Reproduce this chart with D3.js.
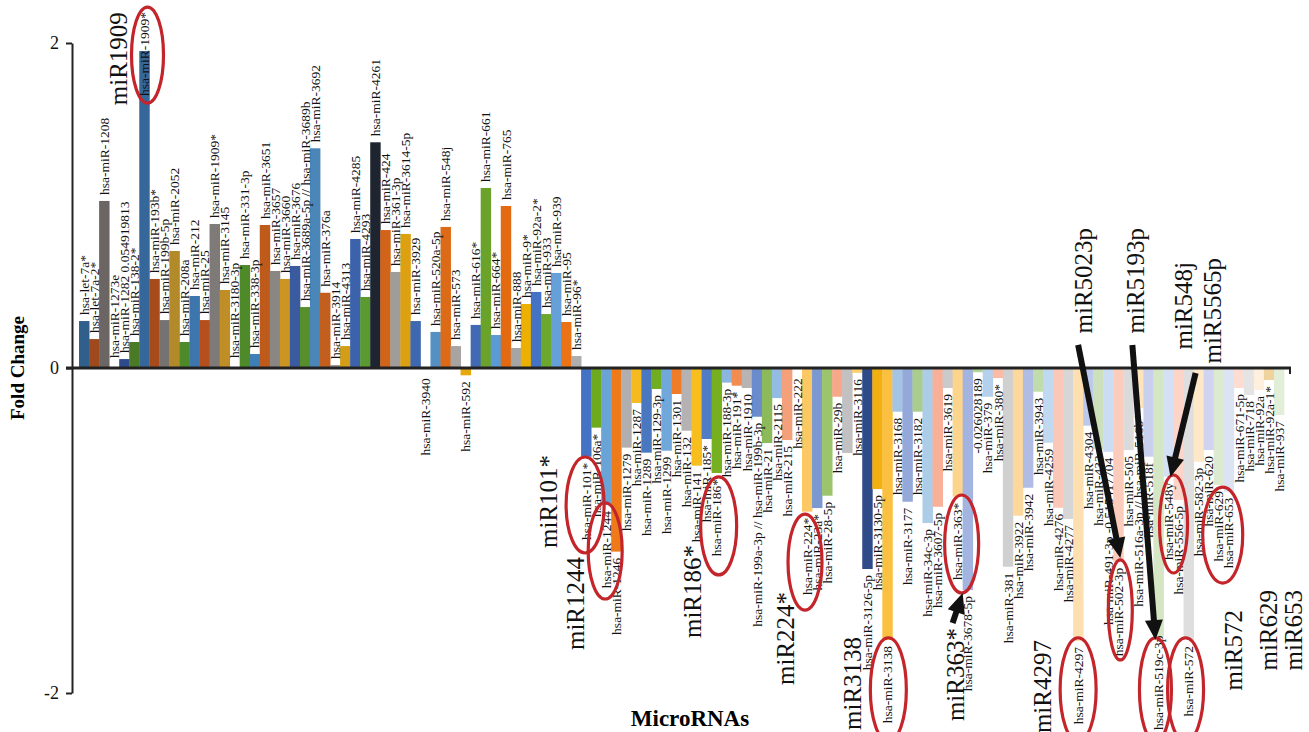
<!DOCTYPE html>
<html><head><meta charset="utf-8">
<script src="https://cdn.jsdelivr.net/npm/d3@7"></script>
<style>
body{margin:0;background:#fff}
svg{display:block}
text{font-family:"Liberation Serif","Times New Roman",serif}
</style>
</head><body>
<svg id="chart" width="1309" height="732"></svg>
<script>
// Bar labels as printed beside each bar (some carry the value as well)
const labels = [
  "hsa-let-7a*","hsa-let-7a-2*","hsa-miR-1208","hsa-miR-1273e","hsa-miR-1282 0.054919813","hsa-miR-138-2*",
  "hsa-miR-1909*","hsa-miR-193b*","hsa-miR-199b-5p","hsa-miR-2052","hsa-miR-208a","hsa-miR-212",
  "hsa-miR-25","hsa-miR-1909*","hsa-miR-3145","hsa-miR-3180-3p","hsa-miR-331-3p","hsa-miR-338-3p",
  "hsa-miR-3651","hsa-miR-3657","hsa-miR-3660","hsa-miR-3676","hsa-miR-3689a-5p // hsa-miR-3689b","hsa-miR-3692",
  "hsa-miR-376a","hsa-miR-3914","hsa-miR-4313","hsa-miR-4285","hsa-miR-4293","hsa-miR-4261",
  "hsa-miR-424","hsa-miR-361-3p","hsa-miR-3614-5p","hsa-miR-3929","hsa-miR-3940","hsa-miR-520a-5p",
  "hsa-miR-548j","hsa-miR-573","hsa-miR-592","hsa-miR-616*","hsa-miR-661","hsa-miR-664*",
  "hsa-miR-765","hsa-miR-888","hsa-miR-9*","hsa-miR-92a-2*","hsa-miR-933","hsa-miR-939",
  "hsa-miR-95","hsa-miR-96*",
  "hsa-miR-101*","hsa-miR-106a*","hsa-miR-1244","hsa-miR-1246","hsa-miR-1279","hsa-miR-1287",
  "hsa-miR-1289","hsa-miR-129-3p","hsa-miR-1299","hsa-miR-1301","hsa-miR-132","hsa-miR-141",
  "hsa-miR-185*","hsa-miR-186*","hsa-miR-188-3p","hsa-miR-191*","hsa-miR-1910","hsa-miR-199a-3p // hsa-miR-199b-3p",
  "hsa-miR-21","hsa-miR-2115","hsa-miR-215","hsa-miR-222","hsa-miR-224*","hsa-miR-23a*",
  "hsa-miR-28-5p","hsa-miR-29b","","hsa-miR-3116","hsa-miR-3126-5p","hsa-miR-3130-5p",
  "hsa-miR-3138","hsa-miR-3168","hsa-miR-3177","hsa-miR-3182","hsa-miR-34c-3p","hsa-miR-3607-5p",
  "hsa-miR-3619","hsa-miR-363*","hsa-miR-3678-5p","-0.026028189","hsa-miR-379","hsa-miR-380*",
  "hsa-miR-381","hsa-miR-3922","hsa-miR-3942","hsa-miR-3943","hsa-miR-4259","hsa-miR-4276",
  "hsa-miR-4277","hsa-miR-4297","hsa-miR-4304","hsa-miR-433","hsa-miR-491-3p -0.515417704","hsa-miR-502-3p",
  "hsa-miR-505","hsa-miR-516a-3p // hsa-miR-516b*","hsa-miR-518f","hsa-miR-519c-3p","hsa-miR-548y","hsa-miR-556-5p",
  "hsa-miR-572","hsa-miR-582-3p","hsa-miR-620","hsa-miR-629","hsa-miR-653","hsa-miR-671-5p",
  "hsa-miR-718","hsa-miR-92a","hsa-miR-92a-1*","hsa-miR-937"
];

// Fold change per microRNA
const foldChange = [
  0.289, 0.178, 1.028, 0.0, 0.054919813, 0.16,
  1.951, 0.548, 0.295, 0.72, 0.16, 0.443,
  0.295, 0.886, 0.48, 0.0, 0.634, 0.086,
  0.88, 0.597, 0.548, 0.628, 0.375, 1.352,
  0.463, 0.018, 0.135, 0.794, 0.437, 1.389,
  0.849, 0.591, 0.825, 0.289, -0.001, 0.222,
  0.868, 0.135, -0.045, 0.265, 1.108, 0.203,
  0.997, 0.123, 0.394, 0.468, 0.332, 0.585,
  0.283, 0.074,
  -0.546, -0.367, -0.843, -1.13, -0.49, -0.215,
  -0.521, -0.129, -0.509, -0.16, -0.386, -0.601,
  -0.437, -0.646, -0.09, -0.109, -0.123, -0.3,
  -0.462, -0.185, -0.443, -0.001, -0.884, -0.862,
  -0.786, -0.177, -0.523, -0.03, -1.237, -0.745,
  -1.674, -0.269, -0.823, -0.269, -0.954, -0.854,
  -0.123, -0.792, -1.366, -0.026028189, -0.177, -0.062,
  -1.223, -0.909, -0.737, -0.146, -0.46, -0.86,
  -0.929, -1.68, -0.355, -0.5, -0.515417704, -1.192,
  -0.505, -0.246, -0.546, -1.654, -0.669, -0.812,
  -1.674, -0.577, -0.505, -0.72, -0.761, -0.123,
  -0.166, -0.135, -0.074, -0.289
];

// Fill of each bar
const barColors = [
  "#2f5f8a","#9e4a1c","#6b6664","#7a7a7a","#2c4a8c","#4a7a25",
  "#35679a","#a84b1c","#767270","#b38a2a","#4f8a2a","#3d76ad",
  "#b5501e","#7e7a78","#c08e26","#bbbbbb","#4f8a2a","#3f7fb8",
  "#be5a1a","#8a8684","#cc9420","#3a5ba0","#568f2c","#4a86b8",
  "#c35f1e","#9a9694","#d49d18","#3b62aa","#5a9a30","#1e2430",
  "#d2641a","#a09c9a","#dca010","#3e68b0","#9fc4e6","#5590c4",
  "#dd6a16","#a8a4a2","#e6a80c","#4169b4","#6aa22a","#5b9bd5",
  "#e36a10","#a5a5a5","#edb000","#4472c4","#6ca82c","#66a0d8",
  "#eb7316","#aeaeae",
  "#4472c4","#6daa1e","#6aa4d6","#ee7a1a","#b0aeae","#f5ba20",
  "#4a78c0","#70ad20","#70a8dc","#ee7c28","#b4b2b2","#f7be1e",
  "#4f7cc4","#76b020","#8ab6e0","#f28c50","#b8b4b4","#6a8ccc",
  "#8cba5a","#94bce2","#f4a07a","#c8c8c8","#fbc864","#7c98d0",
  "#9cc46c","#f6a88a","#c2c0c0","#fdd070","#2e4a88","#f2b010",
  "#fbc040","#a4c4e4","#94a8da","#aacc8c","#accce8","#f8b098",
  "#cacaca","#fcd48c","#a4b4e0","#b4d49c","#b4d0ec","#fabaa4",
  "#d0d0d0","#fdd89c","#b0bce4","#c0dcac","#c0d8f0","#fbc8b8",
  "#d6d6d6","#fee0b0","#bcc8ec","#cce0bc","#ccdcf2","#fbccbc",
  "#dadada","#fee4bc","#c8d0ee","#d4e6c4","#d4e0f4","#fcd4c8",
  "#dedede","#fee8c8","#d0d4f0","#dcead0","#dce4f4","#fddcd2",
  "#e4e4e4","#fef0dc","#efd29c","#e2eed8"
];

const yTicks = [-2, 0, 2];

// Highlighted microRNAs: callout text placed by bar index (fractional) and value at its top end
const callouts = [
  {text:"miR1909",  at:3.88,  top:2.19},
  {text:"miR101*",  at:46.7,  top:-0.535},
  {text:"miR1244",  at:49.4,  top:-1.163},
  {text:"miR186*",  at:61.1,  top:-1.089},
  {text:"miR224*",  at:70.3,  top:-1.378},
  {text:"miR3138",  at:77.0,  top:-1.655},
  {text:"miR363*",  at:87.3,  top:-1.60},
  {text:"miR4297",  at:95.9,  top:-1.674},
  {text:"miR5023p", at:100.0, top:0.862},
  {text:"miR5193p", at:105.2, top:0.862},
  {text:"miR548j",  at:110.0, top:0.652},
  {text:"miR5565p", at:112.9, top:0.677},
  {text:"miR572",   at:114.9, top:-1.489},
  {text:"miR629",   at:118.4, top:-1.366},
  {text:"miR653",   at:120.9, top:-1.366}
];

// Red rings around the highlighted labels
const rings = [
  {at:6.82,  v:1.926,  rx:16, ry:48},
  {at:50.4,  v:-0.843, rx:19, ry:48},
  {at:52.4,  v:-1.126, rx:17, ry:48},
  {at:63.7,  v:-0.972, rx:18, ry:49},
  {at:72.3,  v:-1.194, rx:17, ry:48},
  {at:80.6,  v:-1.98,  rx:18, ry:52},
  {at:87.9,  v:-1.083, rx:17, ry:49},
  {at:99.5,  v:-1.98,  rx:18, ry:52},
  {at:103.7, v:-1.489, rx:12, ry:50},
  {at:107.2, v:-1.98,  rx:16, ry:52},
  {at:110.2, v:-1.98,  rx:18, ry:52},
  {at:109.0, v:-0.96,  rx:14, ry:49},
  {at:113.9, v:-1.028, rx:20, ry:48}
];

// Black pointer arrows from callouts to their bars
const pointers = [
  {from:[99.5, 0.142],  to:[103.7, -1.169]},
  {from:[104.9, 0.142], to:[107.2, -1.674]},
  {from:[111.2, -0.031], to:[108.7, -0.671]},
  {from:[87.0, -1.569], to:[88.0, -1.385]}
];

const svg = d3.select("#chart");

const x = d3.scaleBand()
  .domain(d3.range(labels.length))
  .range([72, 1291])
  .paddingInner(0)
  .paddingOuter(0.7);
const y = d3.scaleLinear().domain([-2, 2]).range([693, 43]);
const fx = f => x(0) + f * x.step();

// Bars
svg.append("g").selectAll("rect")
  .data(foldChange)
  .join("rect")
  .attr("x", (d, i) => x(i))
  .attr("width", x.bandwidth() + 0.4)
  .attr("y", d => y(Math.max(0, d)))
  .attr("height", d => Math.abs(y(d) - y(0)))
  .attr("fill", (d, i) => barColors[i]);

// Category labels at the outer end of each bar, kept inside the frame
const lab = svg.append("g").attr("font-size", 13.5).attr("fill", "#111");
labels.forEach((t, i) => {
  if (!t) return;
  const v = foldChange[i];
  const cx = x(i) + x.bandwidth() / 2;
  const up = v >= 0;
  const gap = Math.abs(v) < 0.01 ? 10 : 6;
  let y0 = up ? y(v) - gap : y(v) + gap;
  const el = lab.append("text")
    .attr("text-anchor", up ? "start" : "end")
    .attr("dy", "0.35em")
    .text(t);
  const len = el.node().getComputedTextLength();
  if (up && y0 - len < 12) y0 = 12 + len;
  if (!up && y0 + len > 730) y0 = 730 - len;
  el.attr("transform", `translate(${cx},${y0}) rotate(-90)`);
});

// Zero line across the categories
svg.append("line")
  .attr("x1", 66).attr("x2", 1291)
  .attr("y1", y(0)).attr("y2", y(0))
  .attr("stroke", "#222").attr("stroke-width", 3);
svg.append("line")
  .attr("x1", 1290).attr("x2", 1290)
  .attr("y1", y(0)).attr("y2", y(0) + 6)
  .attr("stroke", "#222").attr("stroke-width", 2);

// Value axis
const yAxis = svg.append("g")
  .attr("transform", "translate(72,0)")
  .call(d3.axisLeft(y).tickValues(yTicks).tickSize(6).tickPadding(7).tickSizeOuter(0)
    .tickFormat(d => String(d)));
yAxis.select(".domain").attr("stroke", "#222").attr("stroke-width", 2);
yAxis.selectAll(".tick line").attr("stroke", "#222").attr("stroke-width", 2);
yAxis.selectAll(".tick text")
  .attr("font-family", "Liberation Serif, serif")
  .attr("font-size", 18).attr("fill", "#111");

// Axis titles
svg.append("text")
  .attr("transform", `translate(24,${y(0)}) rotate(-90)`)
  .attr("text-anchor", "middle")
  .attr("font-weight", "bold").attr("font-size", 19)
  .text("Fold Change");
svg.append("text")
  .attr("x", 690).attr("y", 726)
  .attr("text-anchor", "middle")
  .attr("font-weight", "bold").attr("font-size", 23)
  .text("MicroRNAs");

// Red rings
svg.append("g").selectAll("ellipse")
  .data(rings)
  .join("ellipse")
  .attr("cx", d => fx(d.at)).attr("cy", d => y(d.v))
  .attr("rx", d => d.rx).attr("ry", d => d.ry)
  .attr("fill", "none").attr("stroke", "#c4252a").attr("stroke-width", 3.2);

// Pointer arrows
const arr = svg.append("g").attr("fill", "#111").attr("stroke", "#111");
pointers.forEach(p => {
  const x1 = fx(p.from[0]), y1 = y(p.from[1]);
  const x2 = fx(p.to[0]), y2 = y(p.to[1]);
  const dx = x2 - x1, dy = y2 - y1, L = Math.hypot(dx, dy);
  const ux = dx / L, uy = dy / L, nx = -uy, ny = ux;
  const hl = 20, hw = 9;
  const bx = x2 - ux * hl, by = y2 - uy * hl;
  arr.append("line")
    .attr("x1", x1).attr("y1", y1).attr("x2", bx + ux * 2).attr("y2", by + uy * 2)
    .attr("stroke-width", 6);
  arr.append("polygon")
    .attr("stroke", "none")
    .attr("points", [[x2, y2], [bx + nx * hw, by + ny * hw], [bx - nx * hw, by - ny * hw]].join(" "));
});

// Callout names
svg.append("g").attr("font-size", 25).attr("fill", "#111")
  .selectAll("text")
  .data(callouts)
  .join("text")
  .attr("text-anchor", "end")
  .attr("dy", "0.35em")
  .attr("transform", d => `translate(${fx(d.at)},${y(d.top)}) rotate(-90)`)
  .text(d => d.text);
</script>
</body></html>
